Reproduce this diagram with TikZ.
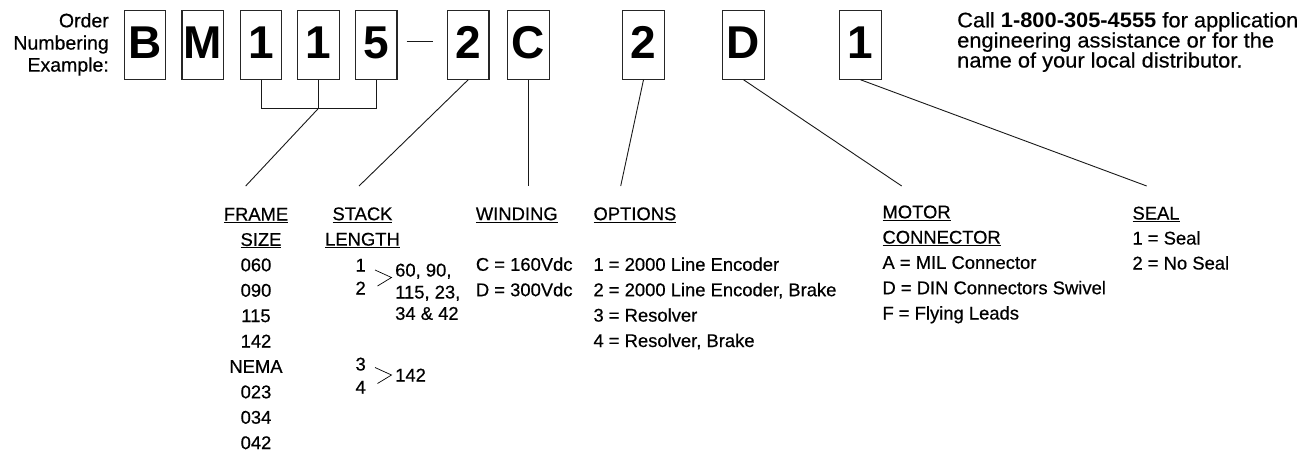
\documentclass[tikz,border=0pt]{standalone}
\usepackage{fontspec}
\setmainfont{Liberation Sans}
\newfontfamily\regfont{Liberation Sans}[FakeBold=0.5]
\begin{document}
\begin{tikzpicture}[x=1pt,y=-1pt,
  digitbox/.style={draw=black!85, line width=1.2pt, minimum width=41.5pt, minimum height=69pt, inner sep=0pt,
    font=\fontsize{46}{46}\selectfont\bfseries, text height=33pt, text depth=5pt},
  conn/.style={line width=0.9pt, draw=black!90},
  lbl/.style={font=\regfont\fontsize{18.4}{22}\selectfont, inner sep=0pt},
  toplbl/.style={font=\regfont\fontsize{19.5}{22}\selectfont, inner sep=0pt, anchor=base east},
  calllbl/.style={font=\regfont\fontsize{21}{22}\selectfont, inner sep=0pt, anchor=base west},
]
\useasboundingbox (0,0) rectangle (1305,455);

% code boxes
\node[digitbox] (b1) at (145,44.65) {B};
\node[digitbox] (b2) at (202.8,44.65) {M};
\node[digitbox] (b3) at (261,44.65) {1};
\node[digitbox] (b4) at (318.5,44.65) {1};
\node[digitbox] (b5) at (376.3,44.65) {5};
\node[digitbox] (b6) at (468.2,44.65) {2};
\node[digitbox] (b7) at (528.5,44.65) {C};
\node[digitbox] (b8) at (643.5,44.65) {2};
\node[digitbox] (b9) at (743.5,44.65) {D};
\node[digitbox] (b10) at (860.5,44.65) {1};

% dash
\draw[line width=1.5pt, black!90] (406.7,41.7) -- (433.3,41.7);

% left label
\node[toplbl] (o1) at (109,27.3) {Order};
\node[toplbl] (o2) at (109,49.6) {Numbering};
\node[toplbl] (o3) at (109,71.6) {Example:};

% right text
\node[calllbl] (c1) at (957,27.3) {\scalebox{1.04}[1]{Call {\normalfont\fontsize{21}{22}\selectfont\bfseries 1-800-305-4555} for application}};
\node[calllbl] (c2) at (957,47.5) {\scalebox{1.04}[1]{engineering assistance or for the}};
\node[calllbl] (c3) at (957,67.5) {\scalebox{1.04}[1]{name of your local distributor.}};

% connectors
\coordinate (jn) at (318.5,108.3);
\draw[conn] (b3.south) |- (jn) -- (b5.south |- jn) -- (b5.south);
\draw[conn] (b4.south) -- (jn);
\coordinate (e1) at (245.7,186);
\coordinate (e2) at (359,186);
\coordinate (e3) at (528.5,186);
\coordinate (e4) at (620.7,186);
\coordinate (e5) at (901.7,186);
\coordinate (e6) at (1146.7,186);
\draw[conn] (jn) -- (e1);
\draw[conn] (b6.south) -- (e2);
\draw[conn] (b7.south) -- (e3);
\draw[conn] (b8.south) -- (e4);
\draw[conn] (b9.south) -- (e5);
\draw[conn] (b10.south) -- (e6);

% frame size
\node[lbl, anchor=base] (f0) at (256,220.5) {\underline{FRAME}};
\node[lbl, anchor=base] (f1) at (261,245.9) {\underline{SIZE}};
\node[lbl, anchor=base] (f2) at (256,271.3) {060};
\node[lbl, anchor=base] (f3) at (256,296.7) {090};
\node[lbl, anchor=base] (f4) at (256,322.1) {115};
\node[lbl, anchor=base] (f5) at (256,347.5) {142};
\node[lbl, anchor=base] (f6) at (256,372.9) {NEMA};
\node[lbl, anchor=base] (f7) at (256,398.3) {023};
\node[lbl, anchor=base] (f8) at (256,423.7) {034};
\node[lbl, anchor=base] (f9) at (256,449.1) {042};

% stack length
\node[lbl, anchor=base] (s0) at (362.5,220.2) {\underline{STACK}};
\node[lbl, anchor=base] (s1) at (362.5,245.6) {\underline{LENGTH}};
\node[lbl, anchor=base east] (s2) at (366,271.5) {1};
\node[lbl, anchor=base east] (s3) at (366,294.5) {2};
\draw[line width=0.7pt] (375,270) -- (391.5,277.5) -- (377.5,286);
\node[lbl, anchor=base west] (s4) at (395,276.5) {60, 90,};
\node[lbl, anchor=base west] (s5) at (395,298.5) {115, 23,};
\node[lbl, anchor=base west] (s6) at (395,319.8) {34 \& 42};
\node[lbl, anchor=base east] (s7) at (366,370.5) {3};
\node[lbl, anchor=base east] (s8) at (366,393.5) {4};
\draw[line width=0.7pt] (375,367.5) -- (391.5,375) -- (377.5,383.5);
\node[lbl, anchor=base west] (s9) at (395,381.5) {142};

% winding
\node[lbl, anchor=base west] (w0) at (475.7,220.2) {\underline{WINDING}};
\node[lbl, anchor=base west] (w1) at (475.7,270.8) {C = 160Vdc};
\node[lbl, anchor=base west] (w2) at (475.7,296.2) {D = 300Vdc};

% options
\node[lbl, anchor=base west] (p0) at (593.3,220.2) {\underline{OPTIONS}};
\node[lbl, anchor=base west] (p1) at (593.3,270.8) {1 = 2000 Line Encoder};
\node[lbl, anchor=base west] (p2) at (593.3,296.2) {2 = 2000 Line Encoder, Brake};
\node[lbl, anchor=base west] (p3) at (593.3,321.6) {3 = Resolver};
\node[lbl, anchor=base west] (p4) at (593.3,347) {4 = Resolver, Brake};

% motor connector
\node[lbl, anchor=base west] (m0) at (882.3,218.3) {\underline{MOTOR}};
\node[lbl, anchor=base west] (m1) at (882.3,243.6) {\underline{CONNECTOR}};
\node[lbl, anchor=base west] (m2) at (882.3,268.9) {A = MIL Connector};
\node[lbl, anchor=base west] (m3) at (882.3,294.2) {D = DIN Connectors Swivel};
\node[lbl, anchor=base west] (m4) at (882.3,319.5) {F = Flying Leads};

% seal
\node[lbl, anchor=base west] (q0) at (1132.3,219.5) {\underline{SEAL}};
\node[lbl, anchor=base west] (q1) at (1132.3,244.5) {1 = Seal};
\node[lbl, anchor=base west] (q2) at (1132.3,269.5) {2 = No Seal};
\end{tikzpicture}
\end{document}
